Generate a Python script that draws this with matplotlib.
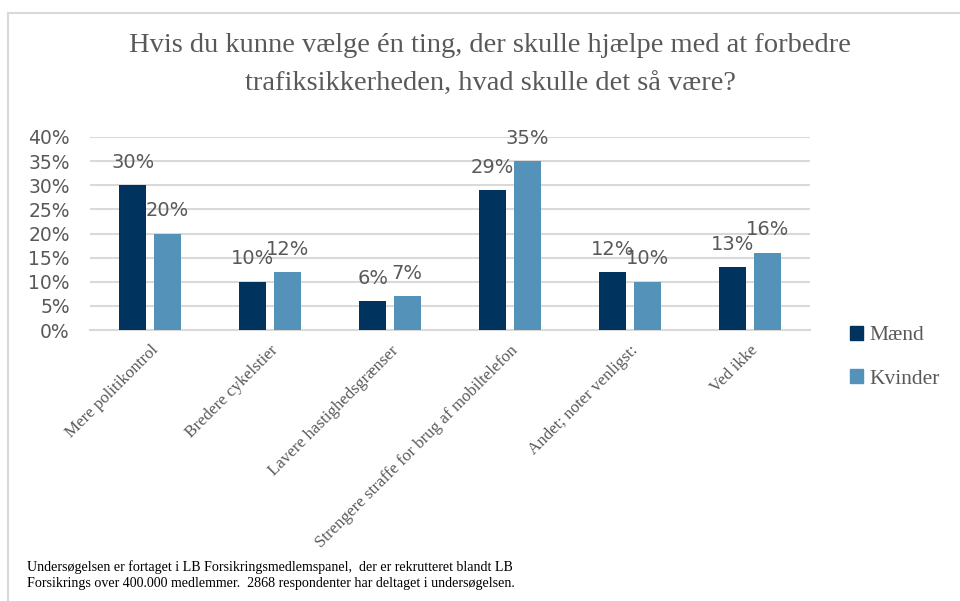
import matplotlib
matplotlib.use("Agg")
import matplotlib.pyplot as plt
import numpy as np
from matplotlib.patches import Rectangle, Patch

categories = ["Mere politikontrol", "Bredere cykelstier", "Lavere hastighedsgrænser",
              "Strengere straffe for brug af mobiltelefon", "Andet; noter venligst:", "Ved ikke"]
maend = [0.30, 0.10, 0.06, 0.29, 0.12, 0.13]
kvinder = [0.20, 0.12, 0.07, 0.35, 0.10, 0.16]
series = [("Mænd", maend, "#00335E"), ("Kvinder", kvinder, "#5592B9")]
yticks = np.arange(0, 0.41, 0.05)

title = "Hvis du kunne vælge én ting, der skulle hjælpe med at forbedre\ntrafiksikkerheden, hvad skulle det så være?"
note = ("Undersøgelsen er fortaget i LB Forsikringsmedlemspanel,  der er rekrutteret blandt LB\n"
        "Forsikrings over 400.000 medlemmer.  2868 respondenter har deltaget i undersøgelsen.")

GRAY = "#595959"
SERIF = ["Liberation Serif", "DejaVu Serif"]
SANS = ["DejaVu Sans"]

W, H = 960, 601
fig = plt.figure(figsize=(W / 100, H / 100), dpi=100)
ax = fig.add_axes([90 / W, (H - 330) / H, 720 / W, 193 / H])

x = np.arange(len(categories))
bw, off = 0.225, 0.144
for i, (name, vals, col) in enumerate(series):
    pos = x + (off if i else -off)
    ax.bar(pos, vals, width=bw, color=col, label=name, zorder=3)
    for px, v in zip(pos, vals):
        ax.annotate(f"{v*100:.0f}%", (px, v), xytext=(0, 16.5), textcoords="offset points",
                    ha="center", va="center", fontsize=14, color=GRAY, family=SANS, zorder=4)

ax.set_xlim(-0.5, len(categories) - 0.5)
ax.set_ylim(0, 0.4)
ax.set_yticks(yticks)
ax.set_yticklabels([f"{t*100:.0f}%" for t in yticks], fontsize=13.5, color=GRAY, family=SANS)
ax.yaxis.grid(True, color="#D9D9D9", lw=1.5, zorder=0)
ax.set_axisbelow(True)
ax.tick_params(axis="y", length=0, pad=14.5)
ax.tick_params(axis="x", length=0, pad=9)
ax.set_xticks(x)
ax.set_xticklabels(categories, rotation=45, ha="right", rotation_mode="anchor",
                   fontsize=12.2, color=GRAY, family=SERIF)
for s in ["top", "right", "left"]:
    ax.spines[s].set_visible(False)
ax.spines["bottom"].set_color("#D9D9D9")
ax.spines["bottom"].set_linewidth(1.5)

handles = [Patch(color=c, label=n) for n, _, c in series]
leg = fig.legend(handles=handles, loc="upper left", bbox_to_anchor=(850 / W, 1 - 326 / H),
                 frameon=False, prop={"family": SERIF, "size": 15.5}, labelcolor=GRAY,
                 handlelength=0.6, handleheight=0.6, handletextpad=0.3, labelspacing=1.1,
                 borderpad=0, borderaxespad=0)

fig.text(490 / W, 1 - 65 / H, title, ha="center", va="center", fontsize=20.5,
         color=GRAY, family=SERIF, linespacing=1.72)
fig.text(27 / W, 1 - 575 / H, note, ha="left", va="center", fontsize=10.1,
         color="black", family=SERIF, linespacing=1.35)

fig.patches.append(Rectangle((8 / W, -0.05), 1.0, 1 - 13 / H + 0.05, fill=False,
                             edgecolor="#D9D9D9", lw=1.5, transform=fig.transFigure))

fig.savefig("out.png", dpi=100)
